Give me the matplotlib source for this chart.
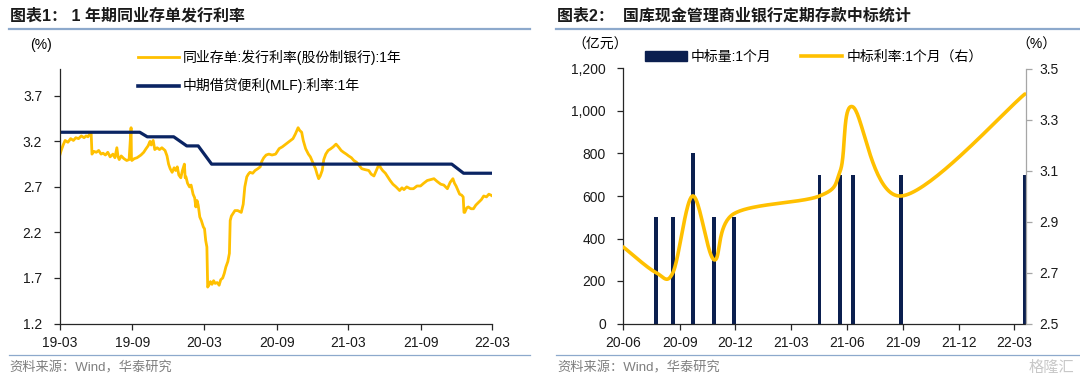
import matplotlib
matplotlib.use("Agg")
import matplotlib.pyplot as plt
import matplotlib.dates as mdates
import matplotlib.ticker as mticker
from matplotlib.lines import Line2D
from matplotlib.patches import Patch
import numpy as np
import pandas as pd

plt.rcParams["font.family"] = ["Liberation Sans", "Noto Sans CJK SC"]
plt.rcParams["axes.unicode_minus"] = False

# ---- chart 1: 1Y NCD issuance rate vs 1Y MLF ----
ncd_dates = [
    "2019-03-01", "2019-03-05", "2019-03-10", "2019-03-15", "2019-03-22", "2019-03-29",
    "2019-04-05", "2019-04-11", "2019-04-18", "2019-04-25", "2019-05-02", "2019-05-07",
    "2019-05-12", "2019-05-17", "2019-05-20", "2019-05-22", "2019-05-27", "2019-06-02",
    "2019-06-08", "2019-06-14", "2019-06-19", "2019-06-25", "2019-07-01", "2019-07-07",
    "2019-07-14", "2019-07-19", "2019-07-24", "2019-07-27", "2019-07-30", "2019-08-04",
    "2019-08-11", "2019-08-18", "2019-08-24", "2019-08-29", "2019-08-30", "2019-08-31",
    "2019-09-06", "2019-09-13", "2019-09-23", "2019-09-30", "2019-10-06", "2019-10-11",
    "2019-10-16", "2019-10-19", "2019-10-24", "2019-10-28", "2019-11-03", "2019-11-09",
    "2019-11-15", "2019-11-23", "2019-11-28", "2019-12-02", "2019-12-06", "2019-12-11",
    "2019-12-16", "2019-12-20", "2019-12-24", "2019-12-28", "2020-01-02", "2020-01-06",
    "2020-01-11", "2020-01-13", "2020-01-15", "2020-01-19", "2020-01-24", "2020-01-28",
    "2020-02-02", "2020-02-06", "2020-02-09", "2020-02-12", "2020-02-15", "2020-02-19",
    "2020-02-23", "2020-02-28", "2020-03-02", "2020-03-05", "2020-03-08", "2020-03-10",
    "2020-03-13", "2020-03-17", "2020-03-21", "2020-03-25", "2020-03-29", "2020-04-03",
    "2020-04-08", "2020-04-12", "2020-04-17", "2020-04-21", "2020-04-25", "2020-04-30",
    "2020-05-04", "2020-05-06", "2020-05-09", "2020-05-12", "2020-05-18", "2020-05-25",
    "2020-06-03", "2020-06-08", "2020-06-12", "2020-06-17", "2020-06-21", "2020-06-25",
    "2020-07-02", "2020-07-08", "2020-07-15", "2020-07-21", "2020-07-25", "2020-07-30",
    "2020-08-05", "2020-08-12", "2020-08-20", "2020-08-29", "2020-09-07", "2020-09-15",
    "2020-09-24", "2020-10-03", "2020-10-12", "2020-10-18", "2020-10-25", "2020-10-29",
    "2020-11-03", "2020-11-07", "2020-11-13", "2020-11-20", "2020-11-25", "2020-11-29",
    "2020-12-03", "2020-12-08", "2020-12-12", "2020-12-16", "2020-12-20", "2020-12-25",
    "2020-12-29", "2021-01-03", "2021-01-09", "2021-01-16", "2021-01-22", "2021-01-29",
    "2021-02-04", "2021-02-11", "2021-02-17", "2021-02-24", "2021-03-02", "2021-03-09",
    "2021-03-15", "2021-03-22", "2021-03-28", "2021-04-04", "2021-04-12", "2021-04-22",
    "2021-04-28", "2021-05-05", "2021-05-12", "2021-05-18", "2021-05-22", "2021-05-27",
    "2021-06-03", "2021-06-09", "2021-06-15", "2021-06-22", "2021-06-30", "2021-07-09",
    "2021-07-15", "2021-07-20", "2021-07-27", "2021-08-05", "2021-08-13", "2021-08-22",
    "2021-08-31", "2021-09-08", "2021-09-17", "2021-09-25", "2021-10-04", "2021-10-12",
    "2021-10-21", "2021-10-29", "2021-11-07", "2021-11-14", "2021-11-21", "2021-11-25",
    "2021-11-29", "2021-12-04", "2021-12-08", "2021-12-13", "2021-12-17", "2021-12-19",
    "2021-12-21", "2021-12-26", "2021-12-30", "2022-01-06", "2022-01-12", "2022-01-18",
    "2022-01-25", "2022-02-01", "2022-02-07", "2022-02-14", "2022-02-20", "2022-02-25",
    "2022-03-01",
]
ncd_rate = [
    3.04, 3.10, 3.16, 3.21, 3.19, 3.23,
    3.21, 3.24, 3.23, 3.26, 3.24, 3.26,
    3.25, 3.29, 3.28, 3.06, 3.09, 3.08,
    3.10, 3.06, 3.07, 3.05, 3.08, 3.03,
    3.06, 3.02, 3.13, 3.03, 3.00, 3.04,
    3.01, 2.99, 3.00, 3.35, 3.00, 2.99,
    3.01, 3.02, 3.05, 3.08, 3.12, 3.15,
    3.20, 3.16, 3.21, 3.11, 3.13, 3.11,
    3.13, 3.10, 3.04, 2.95, 2.90, 2.86,
    2.91, 2.88, 2.92, 2.83, 2.80, 2.88,
    2.95, 2.80, 2.81, 2.74, 2.70, 2.72,
    2.62, 2.58, 2.48, 2.55, 2.50, 2.37,
    2.33, 2.26, 2.24, 2.11, 2.04, 1.60,
    1.62, 1.66, 1.63, 1.67, 1.64, 1.65,
    1.62, 1.68, 1.70, 1.75, 1.82, 1.88,
    1.97, 2.33, 2.38, 2.40, 2.44, 2.44,
    2.42, 2.51, 2.70, 2.81, 2.84, 2.86,
    2.85, 2.88, 2.90, 2.92, 2.98, 3.02,
    3.05, 3.06, 3.05, 3.06, 3.12, 3.14,
    3.17, 3.20, 3.23, 3.28, 3.35, 3.32,
    3.30, 3.21, 3.12, 3.06, 3.03, 2.99,
    2.95, 2.90, 2.84, 2.79, 2.82, 2.88,
    3.00, 3.06, 3.10, 3.12, 3.14, 3.17,
    3.14, 3.10, 3.08, 3.06, 3.04, 3.02,
    2.99, 2.97, 2.94, 2.90, 2.89, 2.88,
    2.84, 2.82, 2.89, 2.95, 2.91, 2.88,
    2.85, 2.81, 2.77, 2.73, 2.70, 2.66,
    2.69, 2.67, 2.70, 2.68, 2.68, 2.71,
    2.71, 2.74, 2.77, 2.78, 2.79, 2.76,
    2.73, 2.72, 2.68, 2.75, 2.79, 2.74,
    2.71, 2.66, 2.62, 2.61, 2.59, 2.42,
    2.42, 2.47, 2.48, 2.46, 2.46, 2.50,
    2.53, 2.56, 2.60, 2.59, 2.62, 2.61,
    2.60,
]

mlf_dates = ["2019-03-01", "2019-09-20", "2019-10-09", "2019-12-15", "2020-01-17",
             "2020-02-15", "2020-03-20", "2021-11-18", "2021-12-18", "2022-03-01"]
mlf_rate = [3.30, 3.30, 3.25, 3.25, 3.15, 3.15, 2.95, 2.95, 2.85, 2.85]

# ---- chart 2: treasury cash management time deposits, 1 month ----
bid_dates = ["2020-07-24", "2020-08-21", "2020-09-22", "2020-10-27", "2020-11-28",
             "2021-04-17", "2021-05-21", "2021-06-10", "2021-08-28", "2022-03-18"]
bid_amount = [500, 500, 800, 500, 500, 700, 700, 700, 700, 700]
rate_dates = ["2020-06-01"] + bid_dates
rate_values = [2.80, 2.70, 2.70, 3.00, 2.75, 2.93, 3.00, 3.10, 3.35, 3.00, 3.40]

YELLOW = "#FFC000"
NAVY = "#0B1F4F"
MLF_BLUE = "#0A2463"
RULE = "#8DA9CC"
GRAY_TXT = "#7F7F7F"


def smooth_curve(x, y, sx, sy, n=40):
    """Excel-like smoothed line: Bezier through the points (Catmull-Rom tangents)."""
    P = np.column_stack([np.asarray(x) * sx, np.asarray(y) * sy])
    P = np.vstack([P[0], P, P[-1]])
    t = np.linspace(0, 1, n)[:, None]
    segs = []
    for i in range(1, len(P) - 2):
        p0, p1, p2, p3 = P[i - 1], P[i], P[i + 1], P[i + 2]
        c1 = p1 + (p2 - p0) / 6
        c2 = p2 - (p3 - p1) / 6
        segs.append((1 - t) ** 3 * p1 + 3 * (1 - t) ** 2 * t * c1
                    + 3 * (1 - t) * t ** 2 * c2 + t ** 3 * p2)
    S = np.vstack(segs)
    return S[:, 0] / sx, S[:, 1] / sy


def style_axis(ax):
    for s in ["top", "right"]:
        ax.spines[s].set_visible(False)
    for s in ["left", "bottom"]:
        ax.spines[s].set_color("#262626")
        ax.spines[s].set_linewidth(0.9)
    ax.tick_params(axis="both", direction="out", length=4, width=0.9,
                   color="#262626", labelsize=10, labelcolor="#1a1a1a")
    ax.tick_params(axis="y", pad=8.5)
    ax.tick_params(axis="x", pad=5)


fig = plt.figure(figsize=(10.8, 3.81), dpi=100)
W, H = 1080, 381

# ---------- left panel ----------
ax1 = fig.add_axes([59.6 / W, 1 - 323.5 / H, (492.4 - 59.6) / W, (323.5 - 68.5) / H])
style_axis(ax1)
nd = pd.to_datetime(ncd_dates)
md = pd.to_datetime(mlf_dates)
ax1.plot(nd, ncd_rate, color=YELLOW, lw=2.0, solid_joinstyle="round")
ax1.plot(md, mlf_rate, color=MLF_BLUE, lw=2.3)
ax1.set_ylim(1.2, 4.0)
ax1.set_yticks([1.2, 1.7, 2.2, 2.7, 3.2, 3.7])
ax1.yaxis.set_major_formatter(mticker.FormatStrFormatter("%.1f"))
ax1.set_xlim(pd.Timestamp("2019-03-01"), pd.Timestamp("2022-03-01"))
ax1.xaxis.set_major_locator(mdates.MonthLocator(bymonth=(3, 9)))
ax1.xaxis.set_major_formatter(mdates.DateFormatter("%y-%m"))

h1 = [Line2D([], [], color=YELLOW, lw=2), Line2D([], [], color=MLF_BLUE, lw=2.6)]
ax1.legend(h1, ["同业存单:发行利率(股份制银行):1年", "中期借贷便利(MLF):利率:1年"],
           loc="upper left", bbox_to_anchor=(137.7 / W, 1 - 50 / H),
           bbox_transform=fig.transFigure, frameon=False, fontsize=10,
           handlelength=2.95, handletextpad=0.3, labelspacing=0.95,
           borderpad=0, borderaxespad=0)
fig.text(41 / W, 1 - 45 / H, "(%)", ha="center", va="center", fontsize=10)

# ---------- right panel ----------
ax2 = fig.add_axes([623.3 / W, 1 - 323.5 / H, (1025.5 - 623.3) / W, (323.5 - 68.5) / H])
style_axis(ax2)
bd = pd.to_datetime(bid_dates)
ax2.bar(bd, bid_amount, width=6.5, color=NAVY, zorder=2)
ax2.set_ylim(0, 1200)
ax2.set_yticks(range(0, 1201, 200))
ax2.yaxis.set_major_formatter(mticker.StrMethodFormatter("{x:,.0f}"))
ax2.set_xlim(pd.Timestamp("2020-06-01"), pd.Timestamp("2022-03-19"))
ax2.xaxis.set_major_locator(mdates.MonthLocator(bymonth=(3, 6, 9, 12)))
ax2.xaxis.set_major_formatter(mdates.DateFormatter("%y-%m"))

ax3 = ax2.twinx()
ax3.set_position(ax2.get_position())
for s in ["top", "left", "bottom"]:
    ax3.spines[s].set_visible(False)
ax3.spines["right"].set_color("#A6A6A6")
ax3.spines["right"].set_linewidth(0.9)
ax3.tick_params(axis="y", direction="out", length=4, width=0.9, color="#A6A6A6",
                labelsize=10, labelcolor="#1a1a1a", pad=6)
rx = mdates.date2num(pd.to_datetime(rate_dates))
sx, sy = smooth_curve(rx, rate_values, 0.612, 256)
ax3.plot(sx, sy, color=YELLOW, lw=2.6, solid_capstyle="round", zorder=3)
ax3.set_ylim(2.5, 3.5)
ax3.set_yticks([2.5, 2.7, 2.9, 3.1, 3.3, 3.5])
ax3.yaxis.set_major_formatter(mticker.FormatStrFormatter("%.1f"))
ax3.set_xlim(ax2.get_xlim())

h2 = [Patch(facecolor=NAVY, edgecolor=NAVY), Line2D([], [], color=YELLOW, lw=2.6)]
ax3.legend(h2, ["中标量:1个月", "中标利率:1个月（右）"], ncol=2,
           loc="upper left", bbox_to_anchor=(645 / W, 1 - 50 / H),
           bbox_transform=fig.transFigure, frameon=False, fontsize=10,
           handlelength=3.0, handletextpad=0.3, columnspacing=2.1,
           borderpad=0, borderaxespad=0)
fig.text(600 / W, 1 - 45 / H, "（亿元）", ha="center", va="center", fontsize=10)
fig.text(1036 / W, 1 - 45 / H, "（%）", ha="center", va="center", fontsize=10)

# ---------- titles, rules, sources ----------
fig.text(9.6 / W, 1 - 16 / H, "图表1： 1 年期同业存单发行利率", ha="left", va="center",
         fontsize=11.5, fontweight="bold", color="#1a1a1a")
fig.text(557 / W, 1 - 16 / H, "图表2：  国库现金管理商业银行定期存款中标统计", ha="left",
         va="center", fontsize=11.5, fontweight="bold", color="#1a1a1a")
for x0, x1 in [(8.6, 530), (555.5, 1080)]:
    fig.add_artist(Line2D([x0 / W, x1 / W], [1 - 28.5 / H] * 2, color=RULE, lw=1.6))
    fig.add_artist(Line2D([x0 / W, x1 / W], [1 - 354.5 / H] * 2, color=RULE, lw=0.9))
fig.text(9.6 / W, 1 - 368 / H, "资料来源：Wind，华泰研究", ha="left", va="center",
         fontsize=9.5, color=GRAY_TXT)
fig.text(557 / W, 1 - 368 / H, "资料来源：Wind，华泰研究", ha="left", va="center",
         fontsize=9.5, color=GRAY_TXT)
fig.text(1074 / W, 1 - 368 / H, "格隆汇", ha="right", va="center",
         fontsize=11, color="#C8C8C8")

fig.savefig("out.png", dpi=100)
